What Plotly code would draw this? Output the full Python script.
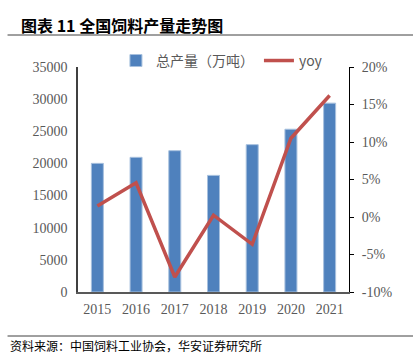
import plotly.graph_objects as go

years = ["2015", "2016", "2017", "2018", "2019", "2020", "2021"]
total_output = [20010, 20950, 21980, 18140, 22920, 25320, 29380]
yoy = [0.0145, 0.0456, -0.080, 0.0024, -0.0364, 0.105, 0.162]

yoy_ticks = [-0.10, -0.05, 0.0, 0.05, 0.10, 0.15, 0.20]
yoy_ticktext = ["-10%", "-5%", "0%", "5%", "10%", "15%", "20%"]

title_text = "图表 11 全国饲料产量走势图"
source_text = "资料来源：中国饲料工业协会，华安证券研究所"
bar_name = "总产量（万吨）"
line_name = "yoy"

tick_font = dict(family="Liberation Serif, Times New Roman, serif", size=14, color="#595959")

fig = go.Figure()
fig.add_trace(go.Bar(
    x=years, y=total_output, name=bar_name,
    marker=dict(color="#4F81BD", line=dict(color="#A7C0DE", width=1)),
    width=0.31, yaxis="y",
))
fig.add_trace(go.Scatter(
    x=years, y=yoy, name=line_name, mode="lines",
    line=dict(color="#C0504D", width=3.5), yaxis="y2",
))

fig.update_layout(
    width=413, height=357,
    margin=dict(l=78, r=64, t=67, b=65, autoexpand=False),
    paper_bgcolor="white", plot_bgcolor="white",
    showlegend=True,
    legend=dict(orientation="h", x=0.14, y=1.027, xanchor="left", yanchor="middle",
                font=dict(family="Noto Sans CJK SC, Liberation Serif", size=14, color="#595959"),
                itemwidth=30, bgcolor="rgba(0,0,0,0)", traceorder="normal"),
    xaxis=dict(type="category", showgrid=False, tickfont=tick_font,
               showline=True, linecolor="#595959", linewidth=2, ticks="",
               range=[-0.5, 6.5], ticklabelstandoff=3),
    yaxis=dict(range=[0, 35000], dtick=5000, showgrid=False, tickfont=tick_font,
               showline=True, linecolor="#404040", linewidth=1.5, ticks="",
               zeroline=False, tickformat="d", ticklabelstandoff=6),
    yaxis2=dict(range=[-0.10, 0.20], tickvals=yoy_ticks, ticktext=yoy_ticktext,
                overlaying="y", side="right",
                showgrid=False, tickfont=tick_font,
                showline=True, linecolor="#000000", linewidth=1, ticks="outside",
                ticklen=4, tickcolor="#000000", zeroline=False, ticklabelstandoff=5),
    annotations=[
        dict(text="<b>" + title_text + "</b>", xref="paper", yref="paper",
             x=-0.218, y=1.0, yshift=42, xanchor="left", yanchor="middle", showarrow=False,
             font=dict(family="Noto Sans CJK SC", size=16, color="#000000")),
        dict(text=source_text, xref="paper", yref="paper",
             x=-0.26, y=0.0, yshift=-53, xanchor="left", yanchor="middle", showarrow=False,
             font=dict(family="Noto Sans CJK SC", size=12, color="#000000")),
    ],
    shapes=[
        dict(type="line", xref="paper", yref="paper", x0=-0.26, x1=1.24, y0=1.0, y1=1.0,
             line=dict(color="#404040", width=1)),
        dict(type="line", xref="paper", yref="paper", x0=-0.26, x1=1.24, y0=0, y1=0,
             line=dict(color="#404040", width=1)),
    ],
)
fig.layout.shapes[0].update(ysizemode="pixel", yanchor=1.0, y0=32, y1=32)
fig.layout.shapes[1].update(ysizemode="pixel", yanchor=0.0, y0=-44, y1=-44)

fig.write_html("out.html", config={"displayModeBar": False},
               post_script="document.body.style.margin='0';document.body.style.overflow='hidden';")
